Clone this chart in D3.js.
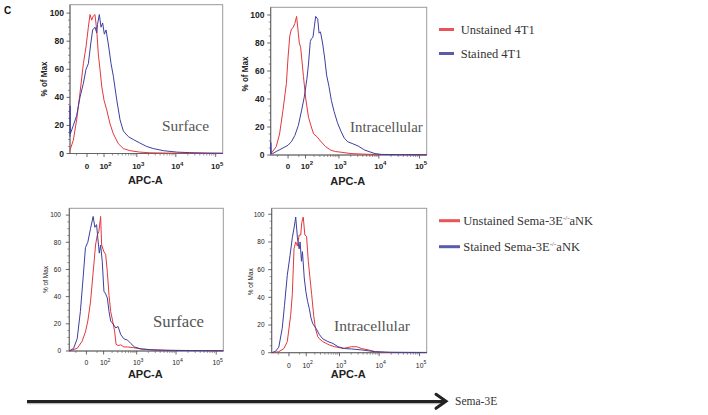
<!DOCTYPE html>
<html><head><meta charset="utf-8">
<script src="https://cdn.jsdelivr.net/npm/d3@7"></script>
<style>body{margin:0;background:#fff}svg{display:block}</style>
</head><body>
<svg id="c" width="708" height="415"></svg>
<script>
// ---------------- DATA (APC-A intensity, % of Max) ----------------
const xTickValues = [0, 100, 1000, 10000, 100000];
const xTickBase   = ["0", "10", "10", "10", "10"];
const xTickExp    = ["", "2", "3", "4", "5"];
const xMinorTicks = [-50, 50, 200, 300, 400, 500, 600, 700, 800, 900,
  2000, 3000, 4000, 5000, 6000, 7000, 8000, 9000,
  20000, 30000, 40000, 50000, 60000, 70000, 80000, 90000];
const yTickValues = [0, 20, 40, 60, 80, 100];
const yMinorTicks = [5,10,15,25,30,35,45,50,55,65,70,75,85,90,95];

const p1Unstained = [[-100,2],[-95,3.5],[-72,9.5],[-49,24],[-30,43],[-14,64],[-3.5,76],[4.8,90],[11.3,99],[18.6,95],[26.5,98],[35,99],[45,88],[55,71],[67,60],[80,48],[100,38],[127,31],[167,21],[214,14],[305,7],[428,3.5],[660,2],[1200,1],[2200,0.5],[5900,0.3],[150000,0.1]];
const p1Stained = [[-100,12],[-99.5,34],[-97,14],[-72,20],[-49,27],[-30,40],[-14,50],[-3.5,60],[4.8,64],[14.3,78],[23,88],[35,90],[45,86],[50,92],[62,99],[74.6,90],[88,93],[103,85],[120,88],[145,78],[180,64],[214,55],[274,38],[343,24],[428,16],[590,12],[800,10],[1200,7.5],[1820,5],[2700,3.5],[4850,2],[10600,1],[22500,0.6],[60000,0.3],[150000,0.2]];

const p2Unstained = [[-100,0.5],[-97,1],[-57,6],[-37,15],[-20,32],[-6,51],[0,70],[6,85],[12.5,90],[20,91],[28,94],[37,99],[47,87],[53,80],[62,77],[83,56],[103,40],[130,27],[163,20],[194,15],[248,13],[313,10],[438,6],[604,3.5],[800,2.5],[1124,2],[2030,1],[5450,0.5],[21000,0.3],[150000,0.1]];
const p2Stained = [[-100,1],[-99.5,9],[-95,1],[-83,1],[-57,2.5],[-20,5],[0,7],[12.5,9.5],[28,14],[47,21],[69,32],[91,42],[113,54],[130,65],[150,81],[163,83],[184,84],[205,92],[225,99],[260,97],[285,87],[313,88],[360,80],[410,70],[469,57],[543,49],[630,39],[746,31],[915,23],[1124,17],[1374,12],[1676,9.5],[2270,8],[3030,6.5],[4490,3.5],[8040,1],[11600,0.4],[31000,0.3],[150000,0.2]];

const p3Unstained = [[-100,0],[-42,2],[-17.5,7],[-3.6,14],[4.8,22],[15.6,36],[28,58],[41,78],[51,85],[62,88],[75,99],[83,78],[103,73],[120,71],[138,58],[158,41],[180,29],[209,22],[242,14],[266,5],[305,4],[367,4.5],[450,3],[568,3],[790,2.5],[1300,1.5],[2300,1],[6200,0.5],[150000,0.2]];
const p3Stained = [[-100,0],[-65,2],[-42,9],[-25,29],[-13,53],[-3.6,76],[4.8,80],[15.6,90],[28,99],[37,91],[47,93],[55,83],[65,72],[75,78],[88,66],[103,44],[120,42],[138,39],[158,29],[180,22],[230,19],[260,17],[305,18],[367,12],[450,9],[568,8],[700,5.5],[870,3],[1300,1.5],[2830,0.7],[9600,0.4],[42000,0.3],[150000,0.2]];

const p4Unstained = [[-100,0],[-47,0.7],[-20,3],[-6,8],[6,27],[12.5,42],[20,75],[28,80],[37,77],[47,85],[57,85],[64,94],[75,98],[88,85],[103,84],[120,66],[138,54],[158,42],[184,27],[209,17.6],[248,11.6],[279,10],[350,8],[438,6.7],[543,5.5],[746,4.3],[1015,3.6],[1240,3],[1510,3.6],[2030,4.3],[2750,4.3],[3690,3],[5450,2],[8040,0.7],[14200,0.2],[150000,0.1]];
const p4Stained = [[-100,0],[-69,1],[-47,4],[-28,17.6],[-17.5,34],[-6,56],[3.6,70],[12.5,83],[20,90],[28,98],[37,83],[47,75],[53,80],[62,66],[69,73],[83,54],[97,44],[113,37],[130,32],[150,25],[171,21],[219,17.6],[279,13],[350,10],[490,8],[670,6.7],[915,4.3],[1374,3],[2030,2.7],[3690,2],[8040,0.7],[21000,0.3],[150000,0.2]];

const notes = ["Surface", "Intracellular", "Surface", "Intracellular"];
const legend1 = ["Unstained 4T1", "Stained 4T1"];
const legend2Main = ["Unstained Sema-3E", "Stained Sema-3E"];
const legend2Sup = "-/-";
const legend2Tail = "aNK";
const arrowLabel = "Sema-3E";
const panelLetter = "C";

// ---------------- STYLE / LAYOUT ----------------
const RED = "#e4373c", BLUE = "#3d3f9e";
const SANS = "'Liberation Sans', Arial, sans-serif";
const SERIF = "'Liberation Serif', 'Times New Roman', serif";

const svg = d3.select("#c");

const panels = [
  {un:p1Unstained, st:p1Stained, left:70, right:222.7, top:4.7, bottom:153.5, ymax:106,
   bold:true, yFs:8.5, xFs:8, yLabX:64, tickY:169, apcY:183.5, pomX:46.5, pomY:79, pomW:35,
   noteX:162, noteY:131, noteW:47, noteFs:15, note:notes[0]},
  {un:p2Unstained, st:p2Stained, left:270.7, right:426.7, top:7.3, bottom:155, ymax:105.5,
   bold:true, yFs:8.5, xFs:8, yLabX:264.5, tickY:168.5, apcY:185, pomX:248, pomY:74, pomW:35,
   noteX:350, noteY:131.5, noteW:72.7, noteFs:15, note:notes[1]},
  {un:p3Unstained, st:p3Stained, left:69.3, right:223.3, top:208.3, bottom:351, ymax:105,
   bold:false, yFs:6.5, xFs:6.8, yLabX:61, tickY:365, apcY:377.7, pomX:47.5, pomY:279.5, pomW:27,
   noteX:153, noteY:327, noteW:51, noteFs:16, note:notes[2]},
  {un:p4Unstained, st:p4Stained, left:271.7, right:426.7, top:208.3, bottom:352.7, ymax:104.3,
   bold:false, yFs:6.5, xFs:6.8, yLabX:264.5, tickY:367.5, apcY:378.3, pomX:252.5, pomY:281.7, pomW:27,
   noteX:334, noteY:330.5, noteW:76, noteFs:15.5, note:notes[3]}
];

panels.forEach(p => {
  const x = d3.scaleSymlog().constant(60).domain([-100, 150000]).range([p.left, p.right]);
  const y = d3.scaleLinear().domain([0, p.ymax]).range([p.bottom, p.top]);
  const g = svg.append("g");
  const fw = p.bold ? "bold" : "normal";

  g.append("rect").attr("x", p.left).attr("y", p.top)
    .attr("width", p.right - p.left).attr("height", p.bottom - p.top)
    .attr("fill", "none").attr("stroke", "#9a9a9a").attr("stroke-width", 1);

  g.append("line").attr("x1", p.left).attr("x2", p.left).attr("y1", p.top).attr("y2", p.bottom)
    .attr("stroke", "#666").attr("stroke-width", 1);
  g.append("line").attr("x1", p.left).attr("x2", p.right).attr("y1", p.bottom).attr("y2", p.bottom)
    .attr("stroke", "#666").attr("stroke-width", 1);

  g.selectAll(".ymaj").data(yTickValues).enter().append("line")
    .attr("x1", p.left - 3.5).attr("x2", p.left).attr("y1", d => y(d)).attr("y2", d => y(d))
    .attr("stroke", "#444").attr("stroke-width", 0.8);
  g.selectAll(".ymin").data(yMinorTicks).enter().append("line")
    .attr("x1", p.left - 2).attr("x2", p.left).attr("y1", d => y(d)).attr("y2", d => y(d))
    .attr("stroke", "#555").attr("stroke-width", 0.6);
  g.selectAll(".ylab").data(yTickValues).enter().append("text")
    .attr("x", p.yLabX).attr("y", d => y(d)).attr("dy", "0.36em")
    .attr("text-anchor", "end").attr("font-family", SANS).attr("font-size", p.yFs)
    .attr("font-weight", fw).attr("fill", "#222").text(d => d);

  g.selectAll(".xmaj").data(xTickValues).enter().append("line")
    .attr("x1", d => x(d)).attr("x2", d => x(d)).attr("y1", p.bottom).attr("y2", p.bottom + 3.5)
    .attr("stroke", "#444").attr("stroke-width", 0.8);
  g.selectAll(".xmin").data(xMinorTicks).enter().append("line")
    .attr("x1", d => x(d)).attr("x2", d => x(d)).attr("y1", p.bottom).attr("y2", p.bottom + 2)
    .attr("stroke", "#555").attr("stroke-width", 0.6);
  const xl = g.selectAll(".xlab").data(xTickValues).enter().append("text")
    .attr("x", (d, i) => x(d) + (i ? 1.5 : 0)).attr("y", p.tickY)
    .attr("text-anchor", "middle").attr("font-family", SANS).attr("font-size", p.xFs)
    .attr("font-weight", fw).attr("fill", "#222");
  xl.append("tspan").text((d, i) => xTickBase[i]);
  xl.append("tspan").attr("dy", -3.5).attr("font-size", p.xFs * 0.75).text((d, i) => xTickExp[i]);

  g.append("text").attr("x", (p.left + p.right) / 2 - 1).attr("y", p.apcY)
    .attr("text-anchor", "middle").attr("font-family", SANS).attr("font-size", 11)
    .attr("font-weight", "bold").attr("fill", "#222").text("APC-A");
  g.append("text").attr("transform", `translate(${p.pomX},${p.pomY}) rotate(-90)`)
    .attr("text-anchor", "middle").attr("font-family", SANS)
    .attr("font-size", p.bold ? 8.5 : 6.8).attr("font-weight", fw).attr("fill", "#222")
    .attr("textLength", p.pomW).attr("lengthAdjust", "spacingAndGlyphs").text("% of Max");

  const line = d3.line().x(d => x(d[0])).y(d => y(d[1]));
  g.append("path").datum(p.un).attr("d", line).attr("fill", "none")
    .attr("stroke", RED).attr("stroke-width", 1).attr("stroke-linejoin", "round");
  g.append("path").datum(p.st).attr("d", line).attr("fill", "none")
    .attr("stroke", BLUE).attr("stroke-width", 1).attr("stroke-linejoin", "round");

  g.append("text").attr("x", p.noteX).attr("y", p.noteY)
    .attr("font-family", SERIF).attr("font-size", p.noteFs).attr("fill", "#555")
    .attr("textLength", p.noteW).attr("lengthAdjust", "spacingAndGlyphs").text(p.note);
});

svg.append("text").attr("x", 4).attr("y", 13.5).attr("font-family", SANS)
  .attr("font-size", 10).attr("font-weight", "bold").attr("fill", "#111").text(panelLetter);

const legColors = [RED, BLUE];
const leg1 = svg.append("g");
legend1.forEach((t, i) => {
  const yy = [29.5, 53.5][i];
  leg1.append("line").attr("x1", 439).attr("x2", 454).attr("y1", yy).attr("y2", yy)
    .attr("stroke", legColors[i]).attr("stroke-width", 3).attr("opacity", 0.85);
  leg1.append("text").attr("x", 460.7).attr("y", yy + 4).attr("font-family", SERIF)
    .attr("font-size", 12.5).attr("fill", "#333").text(t);
});
const leg2 = svg.append("g");
legend2Main.forEach((t, i) => {
  const yy = [220.7, 246.7][i];
  leg2.append("line").attr("x1", 439).attr("x2", 460).attr("y1", yy).attr("y2", yy)
    .attr("stroke", legColors[i]).attr("stroke-width", 3).attr("opacity", 0.85);
  const tx = leg2.append("text").attr("x", 463.3).attr("y", yy + 4).attr("font-family", SERIF)
    .attr("font-size", 12.5).attr("fill", "#333");
  tx.append("tspan").text(t);
  tx.append("tspan").attr("dy", -4.5).attr("font-size", 7).text(legend2Sup);
  tx.append("tspan").attr("dy", 4.5).text(legend2Tail);
});

const ag = svg.append("g");
ag.append("line").attr("x1", 27).attr("x2", 445).attr("y1", 402.8).attr("y2", 402.8)
  .attr("stroke", "#bbb").attr("stroke-width", 3);
ag.append("line").attr("x1", 27).attr("x2", 445).attr("y1", 401.5).attr("y2", 401.5)
  .attr("stroke", "#222").attr("stroke-width", 3);
ag.append("path").attr("d", "M436,394.3 L446,401.3 L436,408.3")
  .attr("fill", "none").attr("stroke", "#222").attr("stroke-width", 3)
  .attr("stroke-linejoin", "miter").attr("stroke-linecap", "round");
ag.append("text").attr("x", 455).attr("y", 405).attr("font-family", SERIF)
  .attr("font-size", 11.5).attr("fill", "#333").text(arrowLabel);
</script>
</body></html>
